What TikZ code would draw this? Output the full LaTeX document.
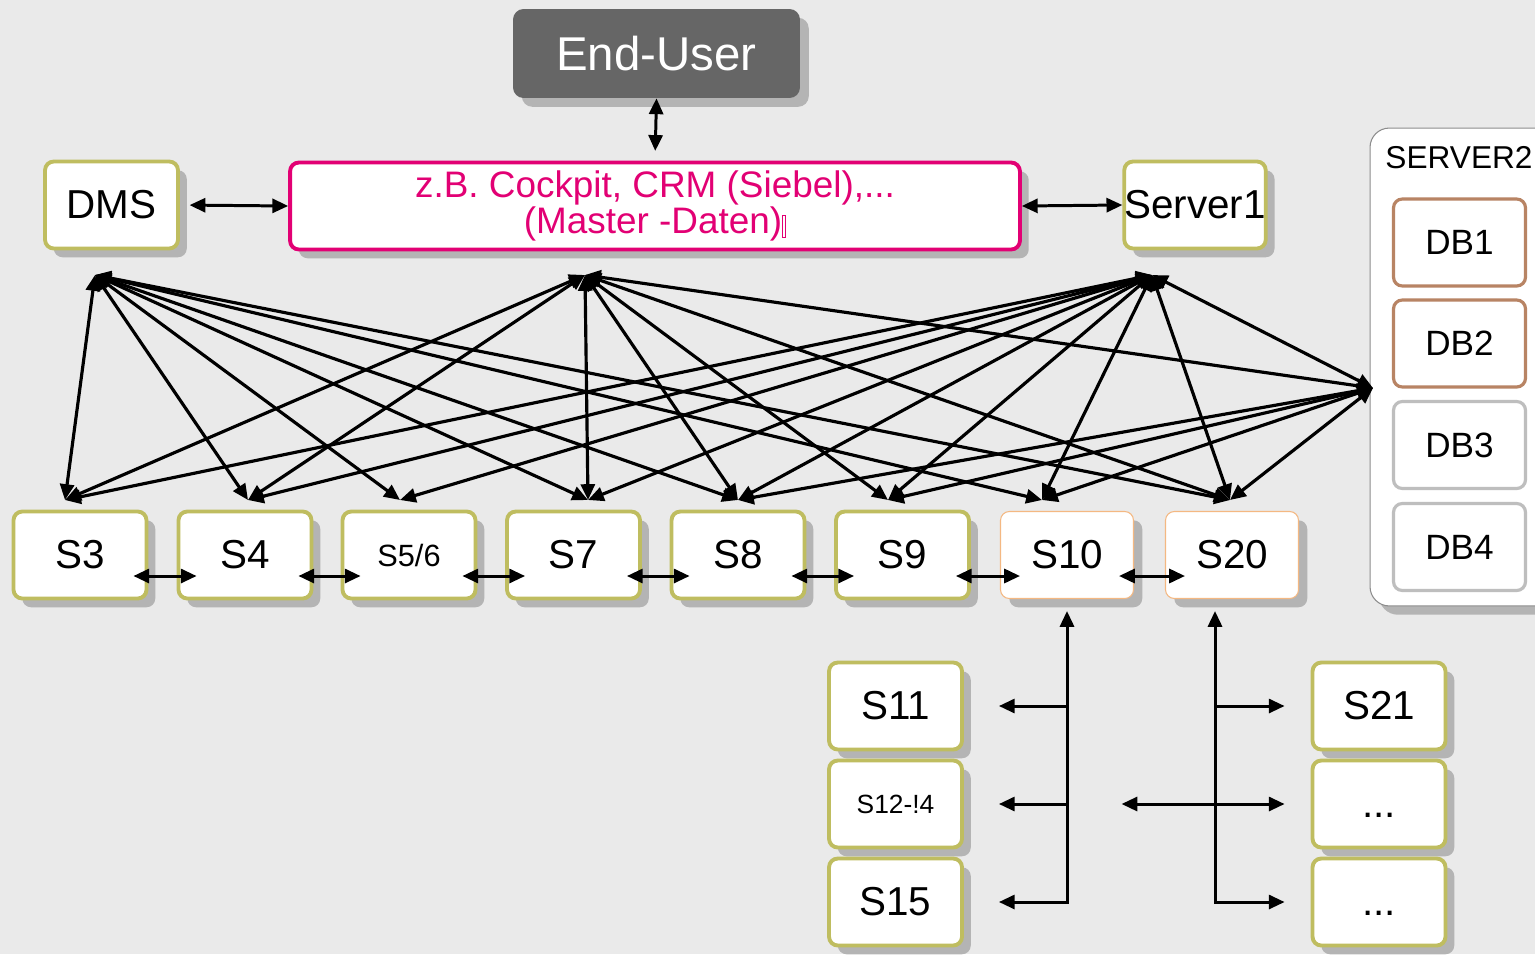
\documentclass[tikz,border=0pt]{standalone}
\usepackage{fontspec}
\setmainfont{Liberation Sans}
\usepackage{tikz}
\usetikzlibrary{positioning}
\usetikzlibrary{arrows.meta}
\usetikzlibrary{shadows}
\usetikzlibrary{calc}
\definecolor{bggrey}{RGB}{234,234,234}
\definecolor{olive2}{RGB}{191,189,96}
\definecolor{magenta2}{RGB}{226,0,116}
\definecolor{shadowgrey}{RGB}{180,180,180}
\definecolor{usergrey}{RGB}{102,102,102}
\definecolor{orange2}{RGB}{244,184,130}
\definecolor{brown2}{RGB}{184,132,100}
\definecolor{dbgrey}{RGB}{190,190,190}
\definecolor{panelgrey}{RGB}{140,140,140}

\begin{document}
\begin{tikzpicture}[x=0.02cm,y=-0.02cm,>={Triangle[length=9pt,width=8pt]}]
\fill[bggrey] (0,0) rectangle (1535,954);
\useasboundingbox (0,0) rectangle (1535,954);
\clip (0,0) rectangle (1535,954);

\tikzstyle{shade}=[drop shadow={shadow xshift=5pt,shadow yshift=-5pt,fill=shadowgrey,opacity=1}]
\tikzstyle{sys}=[shade,draw=olive2,line width=2.2pt,fill=white,rounded corners=5pt,
  minimum width=2.66cm,minimum height=1.74cm,inner sep=0pt,font=\fontsize{23}{26}\selectfont]
\tikzstyle{sysnew}=[sys,draw=orange2,line width=0.6pt]
\tikzstyle{db}=[draw=dbgrey,line width=1.8pt,fill=white,rounded corners=5pt,
  minimum width=2.64cm,minimum height=1.74cm,inner sep=0pt,font=\fontsize{20}{24}\selectfont]
\tikzstyle{web}=[<->,line width=1.8pt]
\tikzstyle{link}=[line width=1.7pt]

% top row
\node[shade,fill=usergrey,rounded corners=6pt,minimum width=5.74cm,minimum height=1.78cm,
  text=white,font=\fontsize{27}{30}\selectfont] (enduser) at (656.5,53.5) {End-User};
\node[sys] (dms) at (111.5,205) {DMS};
\node[sys,draw=magenta2,text=magenta2,minimum width=14.6cm,align=center,
  font=\fontsize{21}{19.5}\selectfont] (crm) at (655,206)
  {z.B. Cockpit, CRM (Siebel),...\\(Master -Daten)\raisebox{-2pt}{\setlength{\fboxsep}{0pt}\setlength{\fboxrule}{0.4pt}\fbox{\rule{0pt}{12pt}\hspace{1.5pt}}}};
\node[sys] (server1) at (1195,205) {Server1};

% database server
\node[shade,draw=panelgrey,line width=0.6pt,fill=white,rounded corners=11pt,
  minimum width=3.8cm,minimum height=9.56cm] (server2) at (1465,367) {};
\node[font=\fontsize{18}{20}\selectfont] (server2-title) at (1459,158) {SERVER2};
\node[db,draw=brown2] (db1) at (1459.5,242.5) {DB1};
\node[db,draw=brown2] (db2) at (1459.5,343.5) {DB2};
\node[db] (db3) at (1459.5,445) {DB3};
\node[db] (db4) at (1459.5,547) {DB4};

% systems
\foreach \n/\x/\t in {s3/80/S3, s4/245/S4, s7/573.5/S7, s8/738/S8, s9/902.5/S9} {
  \node[sys] (\n) at (\x,555) {\t};
}
\node[sys,font=\fontsize{17.5}{20}\selectfont] (s56) at (409,555) {S5/6};
\node[sysnew] (s10) at (1067,555) {S10};
\node[sysnew] (s20) at (1232,555) {S20};

\node[sys] (s11) at (895.5,706) {S11};
\node[sys,font=\fontsize{15}{18}\selectfont] (s12) at (895.5,804) {S12-!4};
\node[sys] (s15) at (895.5,902) {S15};
\node[sys] (s21) at (1379,706) {S21};
\node[sys] (dots1) at (1379,804) {\vphantom{S}...};
\node[sys] (dots2) at (1379,902) {\vphantom{S}...};

% connections
\draw[<->,link,shorten >=5.5pt] (enduser.south) -- (crm.north);
\draw[<->,link,shorten <=5.5pt] (dms.east) -- (crm.west);
\draw[<->,link] (crm.east) -- (server1.west);

\coordinate (dms-port) at (95,275);
\coordinate (crm-port) at (585,275);
\coordinate (server1-port) at (1152,275);
\coordinate (server2-port) at (1373,388);
\foreach \n/\x in {s3/65, s4/248, s56/400, s7/588, s8/738, s9/888, s10/1042, s20/1230}
  \coordinate (\n-port) at (\x,500);

\foreach \a/\b in {dms/s3, dms/s4, dms/s56, dms/s7, dms/s8, dms/s10, dms/s20,
    crm/s3, crm/s4, crm/s7, crm/s8, crm/s9, crm/s20, crm/server2,
    server1/s3, server1/s4, server1/s56, server1/s7, server1/s8, server1/s9,
    server1/s10, server1/s20, server1/server2,
    server2/s8, server2/s9, server2/s10, server2/s20}
  \draw[web] (\a-port) -- (\b-port);

\foreach \a/\b in {s3/s4, s4/s56, s56/s7, s7/s8, s8/s9, s9/s10, s10/s20}
  \draw[<->,link] ($(\a.east)+(-15,21)$) -- ($(\b.west)+(20,21)$);

% S10 group
\draw[<->,link] ($(s10.south)+(0,12)$) |- ($(s15.east)+(35,0)$);
\draw[->,link] (s10.south |- s11.east) -- ($(s11.east)+(35,0)$);
\draw[->,link] (s10.south |- s12.east) -- ($(s12.east)+(35,0)$);

% S20 group
\coordinate (bus20) at ($(s20.south)+(-17,0)$);
\draw[<->,link] ($(bus20)+(0,12)$) |- ($(dots2.west)+(-26,0)$);
\draw[->,link] (bus20 |- s21.west) -- ($(s21.west)+(-26,0)$);
\draw[<->,link] ($(dots1.west)+(-189,0)$) -- ($(dots1.west)+(-26,0)$);
\end{tikzpicture}
\end{document}
